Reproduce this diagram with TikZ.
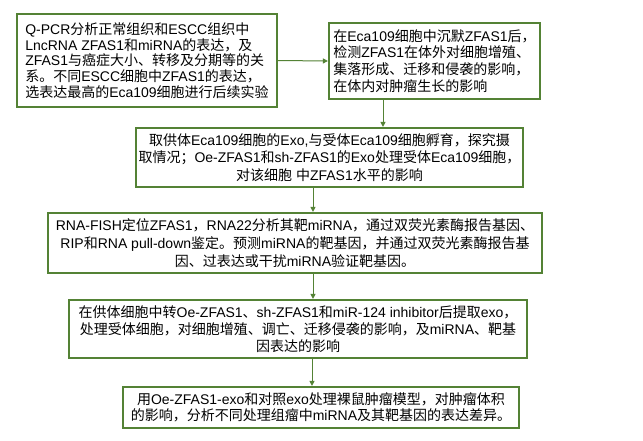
\documentclass[tikz,border=0pt]{standalone}
\usepackage{fontspec}
\setmainfont{Liberation Sans}
\newfontfamily\cjkfont{Noto Sans CJK SC}
\newfontfamily\latfont{Liberation Sans}
\usetikzlibrary{arrows.meta}
\XeTeXinterchartokenstate=1
\newXeTeXintercharclass\CJKcls
\newcount\chnum
\def\setcjkrange#1#2{\chnum=#1\relax
  \loop\XeTeXcharclass\chnum=\CJKcls\relax
  \ifnum\chnum<#2\advance\chnum by 1\repeat}
\setcjkrange{"3000}{"303F}
\setcjkrange{"4E00}{"9FFF}
\setcjkrange{"FF00}{"FFEF}
\XeTeXinterchartoks 0 \CJKcls = {\cjkfont}
\XeTeXinterchartoks 4095 \CJKcls = {\cjkfont}
\XeTeXinterchartoks \CJKcls 0 = {\latfont}
\XeTeXinterchartoks \CJKcls 4095 = {\latfont}
\definecolor{boxgreen}{RGB}{84,130,53}
\tikzset{
  box/.style={draw=boxgreen, line width=2.2pt, fill=white, inner sep=0pt,
    font=\fontsize{14}{16.5}\selectfont},
  arr/.style={draw=boxgreen, line width=1pt, -{Triangle[length=5pt,width=5pt]}}
}
\begin{document}
\begin{tikzpicture}[x=1pt,y=-1pt]
\useasboundingbox[fill=white] (0,0) rectangle (643,440);
\node[box, minimum width=260pt, minimum height=93pt, align=left,
  font=\fontsize{14}{15.8}\selectfont] (b1) at (147,60.5)
  {Q-PCR分析正常组织和ESCC组织中\\LncRNA ZFAS1和miRNA的表达，及\\ZFAS1与癌症大小、转移及分期等的关\\系。不同ESCC细胞中ZFAS1的表达，\\选表达最高的Eca109细胞进行后续实验};
\node[box, minimum width=211pt, minimum height=76pt, align=left,
  font=\fontsize{14}{16.7}\selectfont] (b2) at (434.5,61)
  {在Eca109细胞中沉默ZFAS1后，\\检测ZFAS1在体外对细胞增殖、\\集落形成、迁移和侵袭的影响，\\在体内对肿瘤生长的影响};
\node[box, minimum width=387pt, minimum height=59pt, align=center,
  font=\fontsize{14}{17.2}\selectfont] (b3) at (329.5,157.5)
  {取供体Eca109细胞的Exo,与受体Eca109细胞孵育，探究摄\\取情况；Oe-ZFAS1和sh-ZFAS1的Exo处理受体Eca109细胞，\\对该细胞 中ZFAS1水平的影响};
\node[box, minimum width=494pt, minimum height=60pt, align=center,
  font=\fontsize{14}{18}\selectfont] (b4) at (295,243)
  {RNA-FISH定位ZFAS1，RNA22分析其靶miRNA，通过双荧光素酶报告基因、\\RIP和RNA pull-down鉴定。预测miRNA的靶基因，并通过双荧光素酶报告基\\因、过表达或干扰miRNA验证靶基因。};
\node[box, minimum width=458pt, minimum height=58pt, align=center,
  font=\fontsize{14}{17.3}\selectfont] (b5) at (298,329)
  {在供体细胞中转Oe-ZFAS1、sh-ZFAS1和miR-124 inhibitor后提取exo，\\处理受体细胞，对细胞增殖、调亡、迁移侵袭的影响，及miRNA、靶基\\因表达的影响};
\node[box, minimum width=396pt, minimum height=41pt, align=center,
  font=\fontsize{14}{15.7}\selectfont] (b6) at (321,407.5)
  {用Oe-ZFAS1-exo和对照exo处理裸鼠肿瘤模型，对肿瘤体积\\的影响，分析不同处理组瘤中miRNA及其靶基因的表达差异。};
\coordinate (xa) at (383,0);
\coordinate (xb) at (313,0);
\coordinate (xc) at (312,0);
\draw[arr] (b1.east) -- (b2.west);
\draw[arr] (b2.south -| xa) -- (b3.north -| xa);
\draw[arr] (b3.south -| xb) -- (b4.north -| xb);
\draw[arr] (b4.south -| xb) -- (b5.north -| xb);
\draw[arr] (b5.south -| xc) -- (b6.north -| xc);
\end{tikzpicture}
\end{document}
